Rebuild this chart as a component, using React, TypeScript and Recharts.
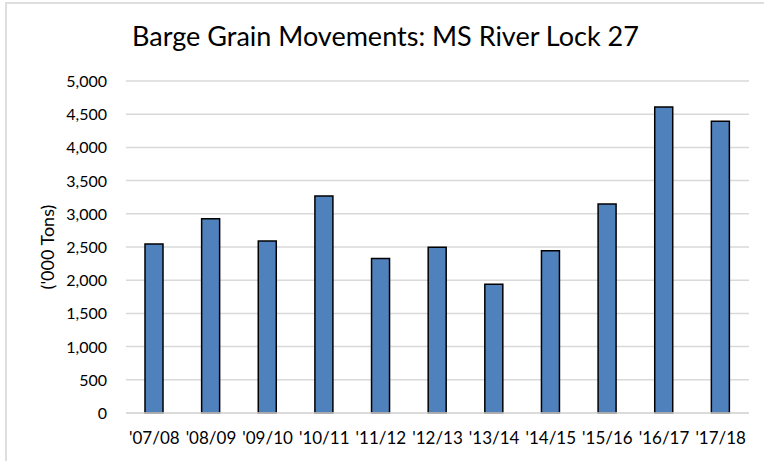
import { BarChart, Bar, XAxis, YAxis, CartesianGrid } from 'recharts'

// Marketing years and lock tonnage ('000 tons)
const SEASONS = ["'07/08", "'08/09", "'09/10", "'10/11", "'11/12", "'12/13", "'13/14", "'14/15", "'15/16", "'16/17", "'17/18"]
const TONS = [2545, 2925, 2590, 3267, 2325, 2495, 1940, 2445, 3147, 4609, 4394]
const Y_TICKS = [0, 500, 1000, 1500, 2000, 2500, 3000, 3500, 4000, 4500, 5000]

const FONT = 'Lato, "Open Sans", sans-serif'

const data = SEASONS.map((season, i) => ({ season, tons: TONS[i] }))

// custom ticks so font size sticks
function XTick(props: any) {
  const { x, y, payload } = props
  return (
    <text x={x} y={y + 13} textAnchor="middle" fill="#000" style={{ fontSize: '17px', fontFamily: FONT }}>
      {payload.value}
    </text>
  )
}

function YTick(props: any) {
  const { x, y, payload } = props
  return (
    <text x={x} y={y + 6} textAnchor="end" fill="#000" style={{ fontSize: '16px', fontFamily: FONT }}>
      {Number(payload.value).toLocaleString('en-US')}
    </text>
  )
}

function YLabel(props: any) {
  const { viewBox } = props
  const cy = viewBox.y + viewBox.height / 2
  return (
    <text
      x={54}
      y={cy}
      transform={`rotate(-90, 54, ${cy})`}
      textAnchor="middle"
      fill="#000"
      style={{ fontSize: '18px', fontFamily: FONT }}
    >
      ('000 Tons)
    </text>
  )
}

export default function App() {
  return (
    <div style={{ position: 'fixed', left: 0, top: 0, width: 764, height: 461, overflow: 'hidden', background: '#fff' }}>
      <div
        style={{
          position: 'absolute',
          left: 5,
          top: 2,
          width: 900,
          height: 600,
          borderLeft: '2px solid #dedede',
          borderTop: '2px solid #dedede',
        }}
      />
      <div
        style={{
          position: 'absolute',
          left: 0,
          top: 19,
          width: 771,
          textAlign: 'center',
          fontFamily: FONT,
          fontSize: 27,
          color: '#000',
          whiteSpace: 'nowrap',
        }}
      >
        Barge Grain Movements: MS River Lock 27
      </div>
      <div style={{ position: 'absolute', left: 0, top: 0 }}>
        <BarChart width={764} height={461} data={data} margin={{ top: 81, right: 15, bottom: 18, left: 0 }}>
          <CartesianGrid stroke="#d9d9d9" strokeWidth={1.5} vertical={false} />
          <XAxis
            dataKey="season"
            height={30}
            tick={<XTick />}
            tickLine={false}
            tickSize={0}
            tickMargin={18}
            axisLine={{ stroke: '#d9d9d9', strokeWidth: 1.5 }}
            interval={0}
          />
          <YAxis
            width={126}
            domain={[0, 5000]}
            ticks={Y_TICKS}
            tick={<YTick />}
            tickLine={false}
            tickSize={0}
            tickMargin={19}
            axisLine={false}
            label={<YLabel />}
          />
          <Bar dataKey="tons" fill="#4f81bd" stroke="#000" strokeWidth={1.5} barSize={18} isAnimationActive={false} />
        </BarChart>
      </div>
    </div>
  )
}
